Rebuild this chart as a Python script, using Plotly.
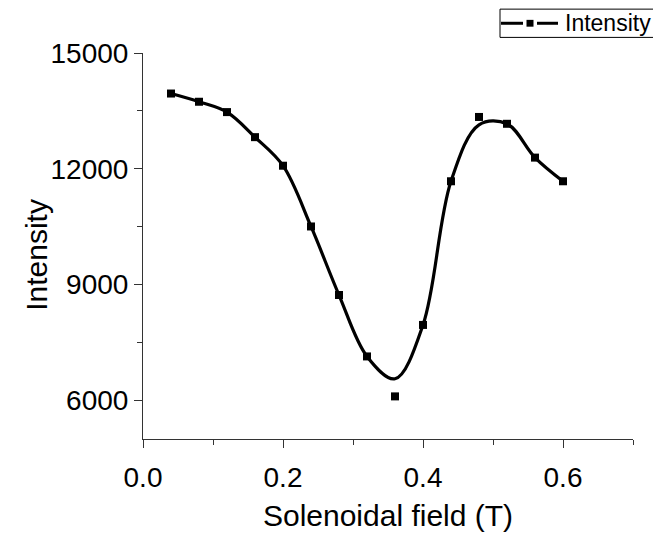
import plotly.graph_objects as go

# Data
field_T = [0.04, 0.08, 0.12, 0.16, 0.20, 0.24, 0.28, 0.32, 0.36, 0.40, 0.44, 0.48, 0.52, 0.56, 0.60]
intensity = [13950, 13737, 13469, 12820, 12080, 10506, 8730, 7139, 6104, 7955, 11677, 13343, 13166, 12290, 11677]
# smoothed curve as drawn in the reference (read at the same x positions)
smooth_intensity = [13950, 13737, 13469, 12820, 12080, 10506, 8730, 7139, 6560, 7955, 11677, 13140, 13166, 12290, 11677]

x_ticks = [0.0, 0.2, 0.4, 0.6]
y_ticks = [6000, 9000, 12000, 15000]
series_name = "Intensity"
x_title = "Solenoidal field (T)"
y_title = "Intensity"

FONT = "Arial, 'Liberation Sans', sans-serif"
AX = "#333333"

W, H = 653, 539
ML, MR, MT, MB = 143, 20, 53, 90
PW, PH = W - ML - MR, H - MT - MB


def px_x(p):
    return (p - ML) / PW


def px_y(p):
    return 1 - (p - MT) / PH


fig = go.Figure()
fig.add_trace(go.Scatter(x=field_T, y=smooth_intensity, mode="lines",
                         line=dict(color="black", width=3.2, shape="spline", smoothing=1.0),
                         showlegend=False, hoverinfo="skip"))
fig.add_trace(go.Scatter(x=field_T, y=intensity, mode="markers", name=series_name,
                         marker=dict(symbol="square", size=8, color="black"),
                         showlegend=False))

# legend box drawn as in the reference (partly cut off at the right edge)
shapes = [
    dict(type="rect", xref="paper", yref="paper", x0=px_x(500), x1=px_x(700),
         y0=px_y(37), y1=px_y(8), line=dict(color="black", width=1), fillcolor="white", layer="above"),
    dict(type="line", xref="paper", yref="paper", x0=px_x(501), x1=px_x(523),
         y0=px_y(22.5), y1=px_y(22.5), line=dict(color="black", width=3)),
    dict(type="line", xref="paper", yref="paper", x0=px_x(537), x1=px_x(558),
         y0=px_y(22.5), y1=px_y(22.5), line=dict(color="black", width=3)),
    dict(type="rect", xref="paper", yref="paper", x0=px_x(526.5), x1=px_x(533.5),
         y0=px_y(26), y1=px_y(19), line=dict(width=0), fillcolor="black"),
]
annotations = [
    dict(text=series_name, xref="paper", yref="paper", x=px_x(563), y=px_y(22.5),
         xanchor="left", yanchor="middle", showarrow=False,
         font=dict(size=23, family=FONT, color="black")),
    dict(text=y_title, xref="paper", yref="paper", x=px_x(37), y=px_y(260),
         xanchor="center", yanchor="middle", textangle=-90, showarrow=False,
         font=dict(size=30, family=FONT, color="black")),
]

fig.update_layout(
    width=W, height=H,
    margin=dict(l=ML, r=MR, t=MT, b=MB),
    paper_bgcolor="white", plot_bgcolor="white",
    font=dict(family=FONT, color="black"),
    showlegend=False,
    shapes=shapes, annotations=annotations,
    xaxis=dict(range=[0, 0.7], tickvals=x_ticks, ticktext=[f"{v:.1f}" for v in x_ticks],
               showgrid=False, zeroline=False, showline=True, linecolor=AX, linewidth=1,
               ticks="outside", ticklen=8, tickcolor=AX, tickwidth=1,
               minor=dict(tickvals=[0.1, 0.3, 0.5, 0.7], ticks="outside", ticklen=5, tickcolor=AX),
               tickfont=dict(size=28, family=FONT), ticklabelstandoff=5,
               title=dict(text=x_title, font=dict(size=30, family=FONT), standoff=13)),
    yaxis=dict(range=[5000, 15000], tickvals=y_ticks, ticktext=[str(v) for v in y_ticks],
               showgrid=False, zeroline=False, showline=True, linecolor=AX, linewidth=1,
               ticks="outside", ticklen=8, tickcolor=AX, tickwidth=1,
               minor=dict(tickvals=[7500, 10500, 13500], ticks="outside", ticklen=5, tickcolor=AX),
               tickfont=dict(size=28, family=FONT)),
)

fig.write_html("out.html")
